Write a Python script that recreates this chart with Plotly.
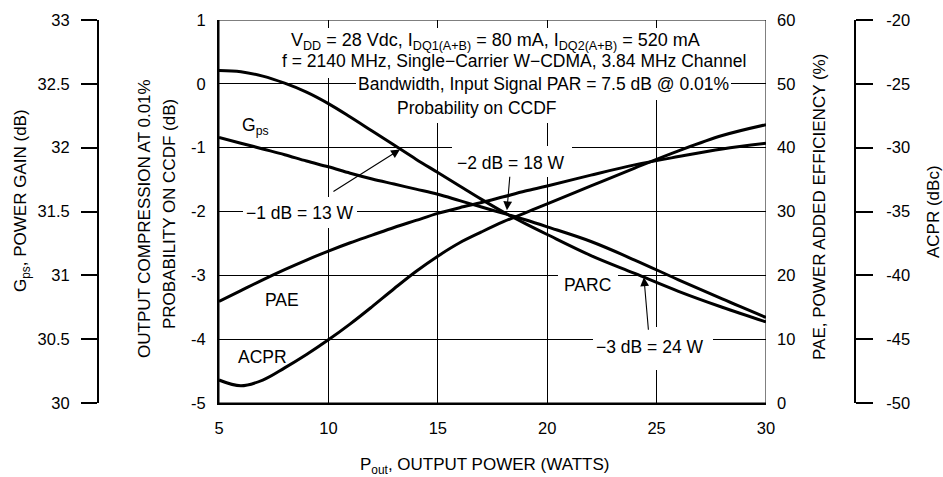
import plotly.graph_objects as go

# ---------------- data ----------------
pout_w = [5, 6, 7, 8, 9, 10, 11, 12, 13, 14, 15, 16, 17, 18, 19, 20, 22, 24, 26, 28, 30]
gps_db = [32.08, 32.035, 31.99, 31.945, 31.895, 31.85, 31.80, 31.755, 31.715, 31.675, 31.635,
          31.585, 31.535, 31.485, 31.435, 31.38, 31.265, 31.12, 30.965, 30.815, 30.67]
parc_db = [0.21, 0.19, 0.12, 0.01, -0.13, -0.31, -0.52, -0.74, -0.96, -1.18, -1.39,
           -1.60, -1.81, -2.01, -2.19, -2.36, -2.69, -2.97, -3.25, -3.50, -3.73]
pae_pct = [15.9, 17.6, 19.3, 20.9, 22.4, 23.8, 25.1, 26.3, 27.5, 28.6, 29.7,
           30.6, 31.4, 32.3, 33.2, 34.0, 35.7, 37.3, 38.6, 39.8, 40.7]
acpr_dbc = [-48.2, -48.65, -48.2, -47.25, -46.2, -45.05, -43.8, -42.45, -41.05, -39.7, -38.5,
            -37.45, -36.6, -35.8, -35.1, -34.4, -33.0, -31.6, -30.25, -29.05, -28.2]

x_ticks = [5, 10, 15, 20, 25, 30]
parc_ticks = [1, 0, -1, -2, -3, -4, -5]
parc_ticktext = ["1", "0", "-1", "-2", "-3", "-4", "-5"]
gps_ticks = [30, 30.5, 31, 31.5, 32, 32.5, 33]
pae_ticks = [0, 10, 20, 30, 40, 50, 60]
acpr_ticks = [-50, -45, -40, -35, -30, -25, -20]
acpr_ticktext = ["-50", "-45", "-40", "-35", "-30", "-25", "-20"]

# ---------------- geometry helpers ----------------
W, H = 943, 477
ML, MR, MT, MB = 0, 0, 20, 477 - 403
PX0, PX1, PY0, PY1 = 219, 766, 20, 403   # main plot box in reference pixels


def fx(px):   # reference pixel -> paper x
    return (px - ML) / (W - ML - MR)


def fy(py):   # reference pixel -> paper y
    return (H - MB - py) / (H - MT - MB)


def dx(px):   # reference pixel -> main data x
    return 5 + (px - PX0) * 25.0 / (PX1 - PX0)


def dy(py):   # reference pixel -> main data y
    return 1 - (py - PY0) * 6.0 / (PY1 - PY0)


FONT = "Liberation Sans, Arial, sans-serif"
LINE = dict(color="black", width=3)

fig = go.Figure()
fig.add_trace(go.Scatter(x=pout_w, y=parc_db, mode="lines", line=dict(LINE, shape="spline"),
                         name="PARC", yaxis="y"))
fig.add_trace(go.Scatter(x=pout_w, y=gps_db, mode="lines", line=dict(LINE, shape="spline"),
                         name="Gps", yaxis="y2"))
fig.add_trace(go.Scatter(x=pout_w, y=pae_pct, mode="lines", line=dict(LINE, shape="spline"),
                         name="PAE", yaxis="y3"))
fig.add_trace(go.Scatter(x=pout_w, y=acpr_dbc, mode="lines", line=dict(LINE, shape="spline"),
                         name="ACPR", yaxis="y4"))

tickfont = dict(family=FONT, size=16.5, color="black")

fig.update_layout(
    width=W, height=H, autosize=False,
    margin=dict(l=ML, r=MR, t=MT, b=MB, pad=0, autoexpand=False),
    paper_bgcolor="white", plot_bgcolor="white",
    showlegend=False,
    font=dict(family=FONT, color="black"),
    xaxis=dict(domain=[fx(PX0), fx(PX1)], range=[5, 30], tickvals=x_ticks,
               showgrid=True, gridcolor="black", gridwidth=1, zeroline=False,
               showline=True, linecolor="black", linewidth=2, ticks="",
               tickfont=tickfont, ticklabelstandoff=9, automargin=False),
    yaxis=dict(range=[-5, 1], tickvals=parc_ticks, ticktext=parc_ticktext,
               showgrid=True, gridcolor="black", gridwidth=1, zeroline=False,
               showline=True, linecolor="black", linewidth=2, ticks="",
               tickfont=tickfont, ticklabelstandoff=8, automargin=False),
    yaxis2=dict(range=[30, 33], tickvals=gps_ticks, overlaying="y", anchor="free",
                position=fx(98), side="left", showgrid=False, zeroline=False,
                showline=True, linecolor="black", linewidth=2,
                ticks="outside", ticklen=16, tickwidth=2, tickcolor="black",
                tickfont=tickfont, ticklabelstandoff=8, automargin=False),
    yaxis3=dict(range=[0, 60], tickvals=pae_ticks, overlaying="y", anchor="x",
                side="right", showgrid=False, zeroline=False, showline=False,
                ticks="", tickfont=tickfont, ticklabelstandoff=10, automargin=False),
    yaxis4=dict(range=[-50, -20], tickvals=acpr_ticks, ticktext=acpr_ticktext,
                overlaying="y", anchor="free", position=fx(855), side="right",
                showgrid=False, zeroline=False,
                showline=True, linecolor="black", linewidth=2,
                ticks="outside", ticklen=17, tickwidth=2, tickcolor="black",
                tickfont=tickfont, ticklabelstandoff=10, automargin=False),
)

# thin top / right frame of the main plot
fig.add_shape(type="rect", xref="x", yref="y", x0=5, x1=30, y0=-5, y1=1,
              line=dict(color="black", width=1), layer="below")

# white masks that interrupt the grid behind the text
masks = [
    (280, 752, 28, 78),    # title lines 1-2
    (356, 731, 74, 100),   # title line 3
    (394, 561, 96, 123),   # title line 4
    (452, 572, 146, 177),  # -2 dB = 18 W
    (243, 357, 197, 228),  # -1 dB = 13 W
    (558, 618, 266, 300),  # PARC
    (593, 713, 327, 370),  # -3 dB = 24 W
]
for x0, x1, y0, y1 in masks:
    fig.add_shape(type="rect", xref="x", yref="y", x0=dx(x0), x1=dx(x1), y0=dy(y1), y1=dy(y0),
                  fillcolor="white", line=dict(width=0), layer="between")


def label(text, px, py, size=17.5, angle=0):
    fig.add_annotation(text=text, x=fx(px), y=fy(py), xref="paper", yref="paper",
                       showarrow=False, textangle=angle, xanchor="center", yanchor="middle",
                       font=dict(family=FONT, size=size, color="black"))


# condition text
label("V<sub>DD</sub> = 28 Vdc, I<sub>DQ1(A+B)</sub> = 80 mA, I<sub>DQ2(A+B)</sub> = 520 mA", 495, 42, size=18)
label("f = 2140 MHz, Single\u2212Carrier W\u2212CDMA, 3.84 MHz Channel", 514, 61)
label("Bandwidth, Input Signal PAR = 7.5 dB @ 0.01%", 543, 84)
label("Probability on CCDF", 477, 108)

# curve labels
label("G<sub>ps</sub>", 255, 126)
label("PAE", 282, 300)
label("ACPR", 262, 357)
label("PARC", 587, 285)

# labels with arrows whose tip sits on the PARC curve
arrow_labels = [("\u22121 dB = 13 W", 300, 213, 13.27, -1.03, 400, 150, 18),
                ("\u22122 dB = 18 W", 511, 163, 18.16, -1.98, 507, 210, 2),
                ("\u22123 dB = 24 W", 650, 347, 24.42, -3.03, 644, 277, 6)]
for text, cx, cy, xt, yt, hx, hy, sso in arrow_labels:
    fig.add_annotation(x=xt, y=yt, xref="x", yref="y", text=text, showarrow=True,
                       ax=cx - hx, ay=cy - hy, arrowhead=2, arrowsize=1.6, arrowwidth=1.1,
                       arrowcolor="black", standoff=0, startstandoff=sso,
                       font=dict(family=FONT, size=17.5, color="black"))

# axis titles
label("G<sub>ps</sub>, POWER GAIN (dB)", 22, 201, size=17, angle=-90)
label("OUTPUT COMPRESSION AT 0.01%", 144, 219, size=17, angle=-90)
label("PROBABILITY ON CCDF (dB)", 169, 214, size=17, angle=-90)
label("PAE, POWER ADDED EFFICIENCY (%)", 819, 207, size=17, angle=-90)
label("ACPR (dBc)", 933, 212, size=17, angle=-90)
label("P<sub>out</sub>, OUTPUT POWER (WATTS)", 485, 466, size=17)

# the page body normally adds an 8 px margin; remove it so the figure fills the window
fig.write_html("out.html", config={"displayModeBar": False},
               post_script="document.body.style.margin='0px';document.body.style.overflow='hidden';")
